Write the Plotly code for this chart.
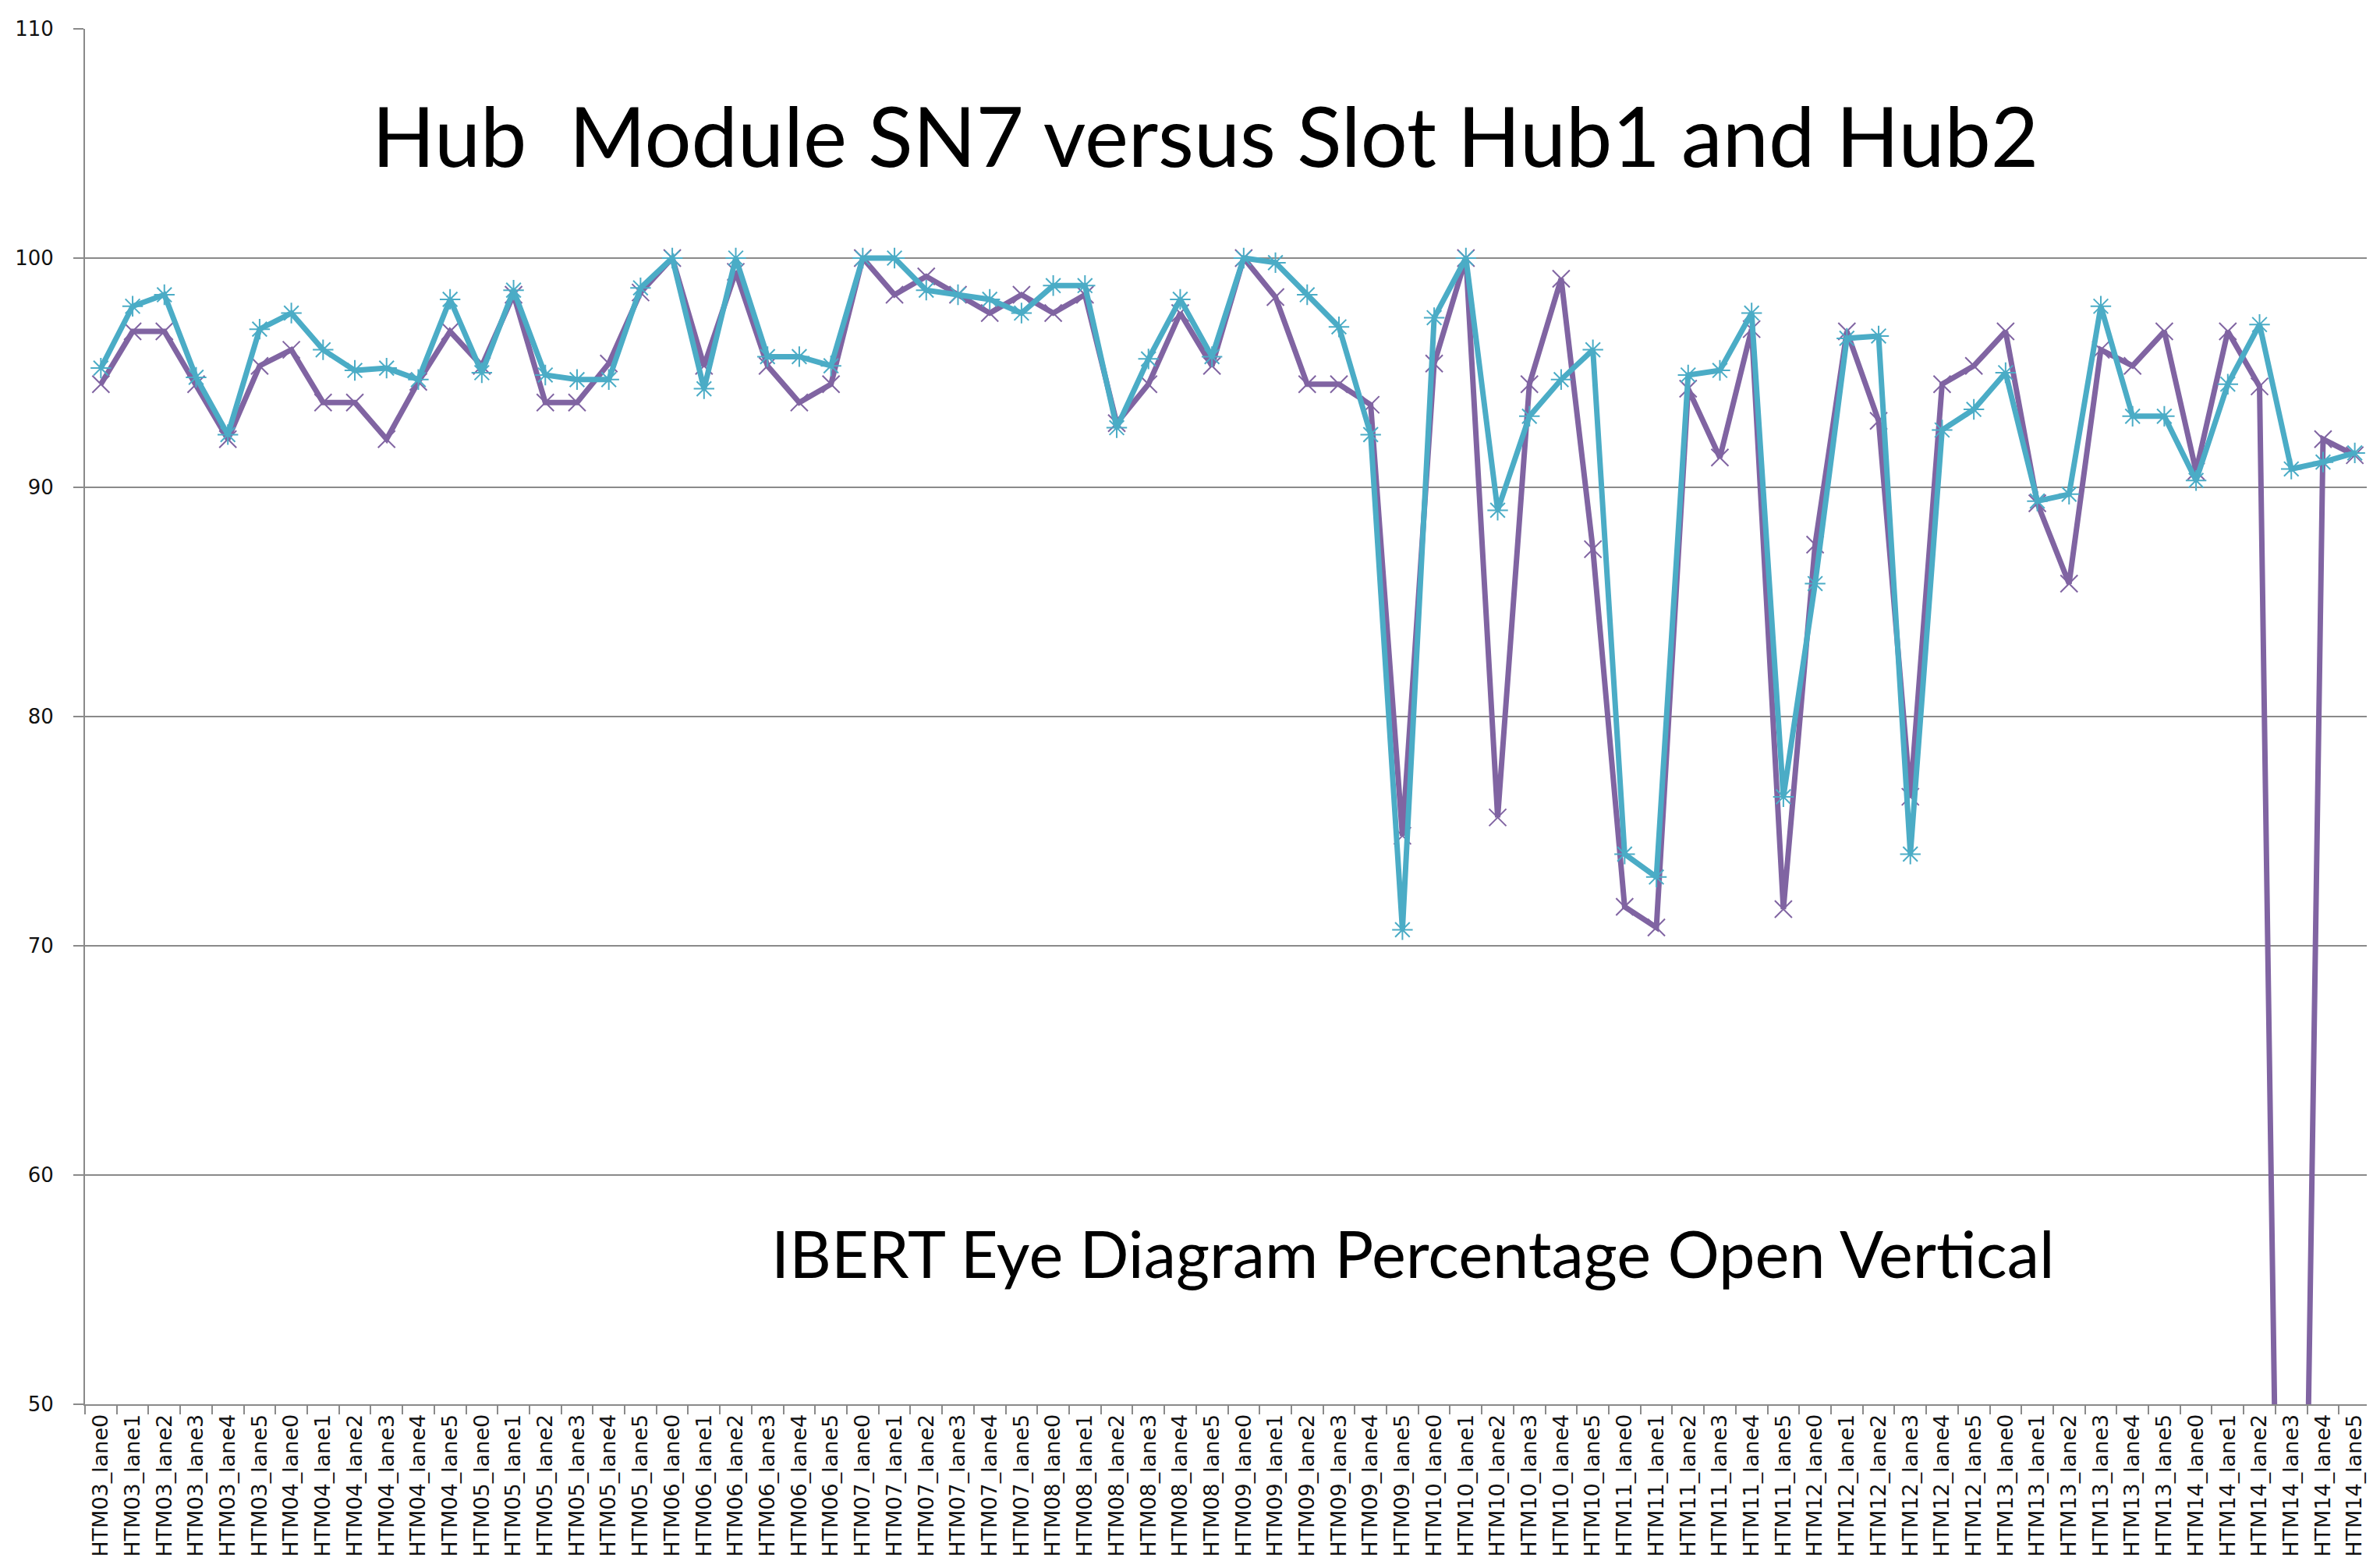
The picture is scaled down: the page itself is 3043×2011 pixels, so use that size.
import plotly.graph_objects as go

modules = ["HTM03", "HTM04", "HTM05", "HTM06", "HTM07", "HTM08",
           "HTM09", "HTM10", "HTM11", "HTM12", "HTM13", "HTM14"]
lanes = ["lane0", "lane1", "lane2", "lane3", "lane4", "lane5"]
categories = [f"{m}_{l}" for m in modules for l in lanes]

hub1 = [94.5, 96.8, 96.8, 94.5, 92.1, 95.3,
        96.0, 93.7, 93.7, 92.1, 94.6, 96.8,
        95.3, 98.4, 93.7, 93.7, 95.4, 98.5,
        100.0, 95.3, 99.4, 95.3, 93.7, 94.5,
        100.0, 98.4, 99.2, 98.4, 97.6, 98.4,
        97.6, 98.4, 92.8, 94.5, 97.6, 95.3,
        100.0, 98.3, 94.5, 94.5, 93.6, 74.8,
        95.4, 100.0, 75.6, 94.5, 99.1, 87.3,
        71.7, 70.8, 94.3, 91.3, 96.9, 71.6,
        87.5, 96.8, 92.9, 76.5, 94.5, 95.3,
        96.8, 89.3, 85.8, 96.0, 95.3, 96.8,
        90.7, 96.8, 94.4, 0.0, 92.1, 91.4]

hub2 = [95.2, 97.9, 98.4, 94.8, 92.3, 96.9,
        97.6, 96.0, 95.1, 95.2, 94.7, 98.2,
        95.0, 98.6, 94.9, 94.7, 94.7, 98.7,
        100.0, 94.3, 100.0, 95.7, 95.7, 95.3,
        100.0, 100.0, 98.6, 98.4, 98.2, 97.6,
        98.8, 98.8, 92.6, 95.6, 98.2, 95.7,
        100.0, 99.8, 98.4, 97.0, 92.3, 70.7,
        97.4, 100.0, 89.0, 93.1, 94.7, 96.0,
        74.0, 73.0, 94.9, 95.1, 97.6, 76.5,
        85.8, 96.5, 96.6, 74.0, 92.5, 93.4,
        95.0, 89.4, 89.7, 97.9, 93.1, 93.1,
        90.3, 94.5, 97.1, 90.8, 91.1, 91.5]

y_ticks = [50, 60, 70, 80, 90, 100, 110]

PURPLE = "#8064A2"
CYAN = "#4BACC6"
GRID = "#8a8a8a"

fig = go.Figure()
fig.add_trace(go.Scatter(
    x=categories, y=hub1, mode="lines+markers", name="Hub1",
    line=dict(color=PURPLE, width=7),
    marker=dict(symbol="x-thin-open", size=22, color=PURPLE,
                line=dict(color=PURPLE, width=2)),
))
fig.add_trace(go.Scatter(
    x=categories, y=hub2, mode="lines+markers", name="Hub2",
    line=dict(color=CYAN, width=7),
    marker=dict(symbol="asterisk-open", size=22, color=CYAN,
                line=dict(color=CYAN, width=2)),
))

fig.update_layout(
    width=3043, height=2011, autosize=False,
    margin=dict(l=98, r=11, t=29, b=218, pad=0),
    paper_bgcolor="white", plot_bgcolor="white",
    showlegend=False,
    font=dict(family="DejaVu Sans", color="#111111"),
    xaxis=dict(
        type="category", tickmode="linear", tick0=0, dtick=1,
        tickson="boundaries", ticks="outside", ticklen=11, tickwidth=2,
        tickcolor=GRID, showline=True, linecolor=GRID, linewidth=2,
        showgrid=False, tickangle=-90, tickfont=dict(size=27, family="DejaVu Sans"),
        range=[-0.5, 71.5], zeroline=False,
    ),
    yaxis=dict(
        range=[50, 110], tickmode="array", tickvals=y_ticks,
        ticks="outside", ticklen=13, tickwidth=2, tickcolor=GRID,
        showline=True, linecolor=GRID, linewidth=2,
        showgrid=True, gridcolor=GRID, gridwidth=2,
        tickfont=dict(size=26, family="DejaVu Sans"), ticklabelstandoff=20,
        zeroline=False,
    ),
    annotations=[
        dict(text="Hub  Module SN7 versus Slot Hub1 and Hub2",
             xref="paper", yref="paper", x=0.490, y=0.923,
             xanchor="center", yanchor="middle", showarrow=False,
             font=dict(family="Lato", size=106, color="black")),
        dict(text="IBERT Eye Diagram Percentage Open Vertical",
             xref="paper", yref="paper", x=0.581, y=0.110,
             xanchor="center", yanchor="middle", showarrow=False,
             font=dict(family="Lato", size=83, color="black")),
    ],
)

fig.write_html("out.html")
